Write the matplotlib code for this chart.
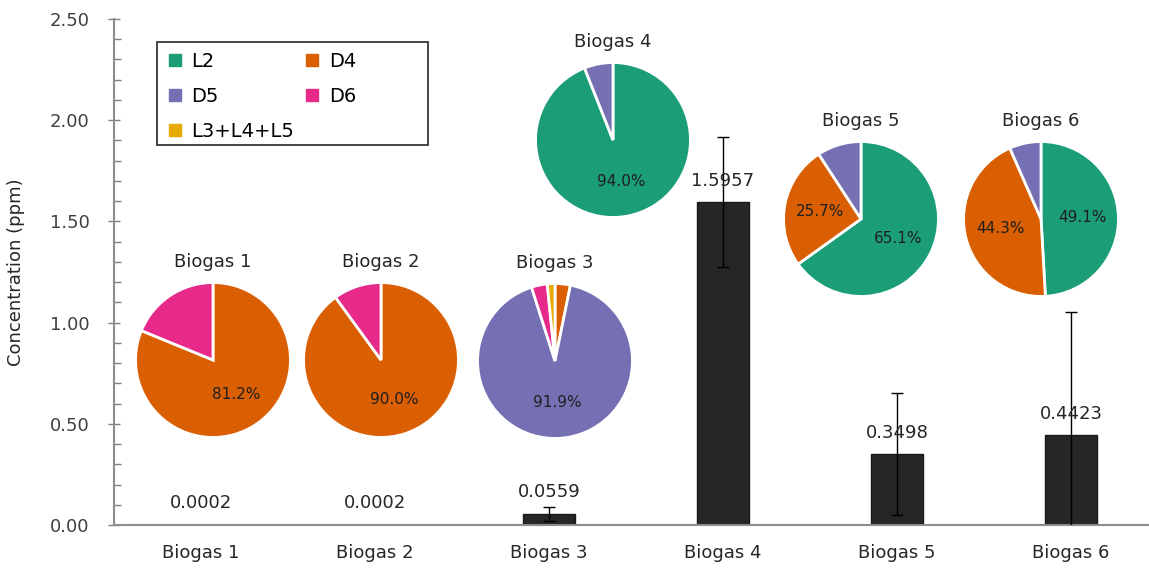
import matplotlib
matplotlib.use("Agg")
import matplotlib.pyplot as plt
from matplotlib.lines import Line2D
from matplotlib.patches import Rectangle
from matplotlib.ticker import MultipleLocator, FormatStrFormatter

# ---- data ----
categories = ["Biogas 1", "Biogas 2", "Biogas 3", "Biogas 4", "Biogas 5", "Biogas 6"]
conc = [0.0002, 0.0002, 0.0559, 1.5957, 0.3498, 0.4423]
conc_err = [0.0, 0.0, 0.034, 0.32, 0.30, 0.61]

species = ["L2", "D4", "D5", "D6", "L3+L4+L5"]
species_colors = ["#1b9e77", "#d95f02", "#7570b3", "#e7298a", "#e6ab02"]

# composition (%) per biogas, in species order
biogas1_share = [0.0, 81.2, 0.0, 18.8, 0.0]
biogas2_share = [0.0, 90.0, 0.0, 10.0, 0.0]
biogas3_share = [0.0, 3.2, 91.9, 3.3, 1.6]
biogas4_share = [94.0, 0.0, 6.0, 0.0, 0.0]
biogas5_share = [65.1, 25.7, 9.2, 0.0, 0.0]
biogas6_share = [49.1, 44.3, 6.6, 0.0, 0.0]
shares = [biogas1_share, biogas2_share, biogas3_share,
          biogas4_share, biogas5_share, biogas6_share]

# ---- layout (pixels) ----
W, H = 1149, 570
pie_centers = [(213, 360), (381, 360), (555, 361), (613, 140), (861, 219), (1041, 219)]
pie_r = 79

plt.rcParams["font.family"] = "DejaVu Sans"
fig = plt.figure(figsize=(W / 100, H / 100), dpi=100)

ax = fig.add_axes([114 / W, 45 / H, (W - 114) / W, 506 / H])
x = list(range(len(categories)))
ax.bar(x, conc, width=0.30, color="#262626", edgecolor="#1a1a1a", zorder=2)
# error bars only where there is a spread
ex = [xi for xi, e in zip(x, conc_err) if e > 0]
ey = [v for v, e in zip(conc, conc_err) if e > 0]
ee = [e for e in conc_err if e > 0]
ax.errorbar(ex, ey, yerr=ee, fmt="none", ecolor="black", elinewidth=1,
            capsize=4, capthick=1, zorder=3)
for xi, v in zip(x, conc):
    ax.annotate(f"{v:.4f}", (xi, v), xytext=(0, 9), textcoords="offset points",
                ha="center", va="bottom", fontsize=13, color="#262626")

ax.set_xlim(-0.5, 5.5 - 9 / 174)
ax.set_ylim(0, 2.5)
ax.set_xticks(x)
ax.set_xticklabels(categories, fontsize=13, color="#262626")
ax.tick_params(axis="x", length=0, pad=14)
ax.yaxis.set_major_locator(MultipleLocator(0.5))
ax.yaxis.set_minor_locator(MultipleLocator(0.1))
ax.yaxis.set_major_formatter(FormatStrFormatter("%.2f"))
ax.tick_params(axis="y", which="major", direction="inout", length=9, width=1,
               color="#7f7f7f", labelsize=13, labelcolor="#404040", pad=13)
ax.tick_params(axis="y", which="minor", direction="in", length=5, width=1,
               color="#7f7f7f")
ax.set_ylabel("Concentration (ppm)", fontsize=13, color="#262626", labelpad=18)
for s in ["top", "right"]:
    ax.spines[s].set_visible(False)
for s in ["left", "bottom"]:
    ax.spines[s].set_color("#8c8c8c")
    ax.spines[s].set_linewidth(1.5)

# legend, row-major order like the original
handles = {n: Line2D([], [], marker="s", ls="none", markersize=9, color=c)
           for n, c in zip(species, species_colors)}
order = ["L2", "D5", "L3+L4+L5", "D4", "D6"]
ax.legend([handles[n] for n in order], order, ncol=2, loc="upper left",
          bbox_to_anchor=(159 / W, 1 - 43 / H), bbox_transform=fig.transFigure,
          fontsize=14, frameon=False, borderaxespad=0,
          handlelength=0.7, handletextpad=0.5, columnspacing=0.6,
          labelspacing=0.82, borderpad=0.45)
# the legend box is wider than its entries in the original
fig.add_artist(Rectangle((157 / W, 1 - 145 / H), 271 / W, 103 / H,
                         transform=fig.transFigure, fill=False,
                         edgecolor="#262626", linewidth=1.2))


def pct_label(p):
    return f"{p:.1f}%" if p >= 20 else ""


# pie insets
for name, sh, (cx, cy) in zip(categories, shares, pie_centers):
    pax = fig.add_axes([(cx - pie_r) / W, 1 - (cy + pie_r) / H, 2 * pie_r / W, 2 * pie_r / H])
    vals = [v for v in sh if v > 0]
    cols = [c for v, c in zip(sh, species_colors) if v > 0]
    pax.pie(vals, colors=cols, startangle=90, counterclock=False,
            autopct=pct_label, pctdistance=0.54,
            wedgeprops=dict(edgecolor="white", linewidth=2),
            textprops=dict(fontsize=11, color="#1f1f1f"))
    pax.set_xlim(-1.02, 1.02)
    pax.set_ylim(-1.02, 1.02)
    pax.set_title(name, fontsize=13, color="#262626", pad=10)

fig.savefig("out.png", dpi=100)
